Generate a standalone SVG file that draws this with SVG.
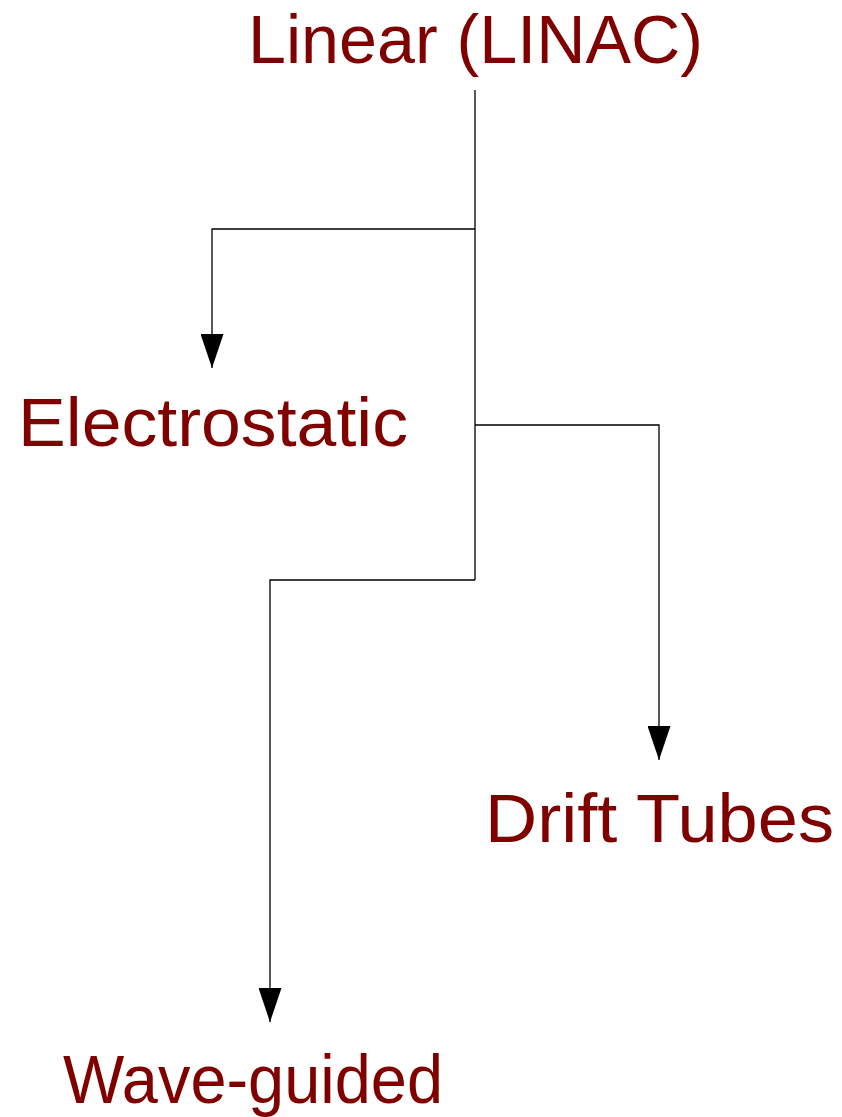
<svg xmlns="http://www.w3.org/2000/svg" width="842" height="1117" viewBox="0 0 842 1117">
<style>
.lbl{font-family:"Liberation Sans","DejaVu Sans",sans-serif;font-size:68px;fill:#800000;}
.conn{fill:none;stroke:#000;stroke-width:1.3;}
.arrow{marker-end:url(#arr);}
</style>
<defs>
<marker id="arr" markerUnits="userSpaceOnUse" markerWidth="35" markerHeight="23" refX="34" refY="11.5" orient="auto" viewBox="0 0 35 23">
<path d="M0,0 L34,11.5 L0,23 Z" fill="#000"/>
</marker>
</defs>
<rect width="842" height="1117" fill="#fff"/>
<g id="connectors">
<path class="conn" d="M475,90 V580"/>
<path class="conn arrow" d="M475,229 H212 V368"/>
<path class="conn arrow" d="M475,425 H659 V760"/>
<path class="conn arrow" d="M475,580 H270 V1022"/>
</g>
<g id="linear"><text class="lbl" x="248" y="63" textLength="455" lengthAdjust="spacingAndGlyphs">Linear (LINAC)</text></g>
<g id="electrostatic"><text class="lbl" x="18" y="446" textLength="390" lengthAdjust="spacingAndGlyphs">Electrostatic</text></g>
<g id="drift"><text class="lbl" x="485" y="842" textLength="349" lengthAdjust="spacingAndGlyphs">Drift Tubes</text></g>
<g id="wave"><text class="lbl" x="63" y="1103" textLength="380" lengthAdjust="spacingAndGlyphs">Wave-guided</text></g>
</svg>
